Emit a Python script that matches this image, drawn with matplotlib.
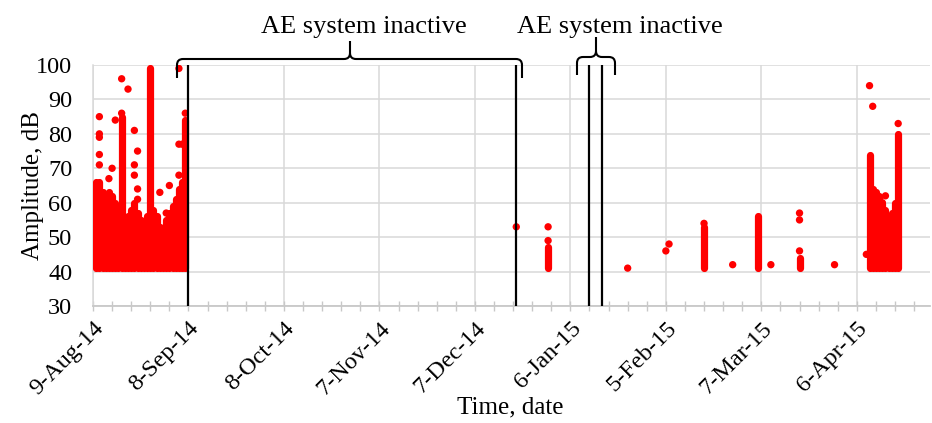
import matplotlib
matplotlib.use('Agg')
import matplotlib.pyplot as plt
import matplotlib.dates as mdates
import matplotlib.transforms as mtransforms
from matplotlib.path import Path
from matplotlib.patches import PathPatch
import numpy as np

plt.rcParams['font.family'] = ['Liberation Serif', 'DejaVu Serif']
plt.rcParams['font.size'] = 17.5

# ---------------- data ----------------
# dense event columns: every event between low and top amplitude (dB) on that date
col_dates = ['2014-08-10', '2014-08-11', '2014-08-12', '2014-08-13', '2014-08-14',
             '2014-08-15', '2014-08-16', '2014-08-17', '2014-08-18', '2014-08-19',
             '2014-08-20', '2014-08-21', '2014-08-22', '2014-08-23', '2014-08-24',
             '2014-08-25', '2014-08-26', '2014-08-27', '2014-08-28', '2014-08-29',
             '2014-08-30', '2014-08-31', '2014-09-01', '2014-09-02', '2014-09-03',
             '2014-09-04', '2014-09-05', '2014-09-06', '2014-09-07',
             '2014-12-30', '2015-02-17', '2015-03-06', '2015-03-19',
             '2015-04-10', '2015-04-11', '2015-04-12', '2015-04-13', '2015-04-14',
             '2015-04-15', '2015-04-16', '2015-04-17', '2015-04-18', '2015-04-19']
col_low = [41] * 43
col_top = [66, 66, 63, 60, 63, 62, 60, 58, 85, 52,
           56, 58, 60, 57, 55, 50, 56, 99, 58, 56,
           53, 52, 55, 57, 59, 61, 64, 66, 84,
           47, 53, 56, 44,
           74, 64, 63, 62, 60, 58, 56, 57, 60, 80]

# isolated events
pt_dates = ['2014-08-11', '2014-08-11', '2014-08-11', '2014-08-11', '2014-08-11',
            '2014-08-18', '2014-08-18', '2014-08-20', '2014-08-16', '2014-08-15',
            '2014-08-14', '2014-08-22', '2014-08-23', '2014-08-22', '2014-08-22',
            '2014-08-23', '2014-08-23', '2014-08-30', '2014-09-02', '2014-09-01',
            '2014-09-05', '2014-09-05', '2014-09-06', '2014-09-05', '2014-09-07',
            '2014-12-20', '2014-12-30', '2014-12-30', '2015-01-24', '2015-02-05',
            '2015-02-06', '2015-02-17', '2015-02-26', '2015-03-10', '2015-03-19',
            '2015-03-19', '2015-03-19', '2015-03-30', '2015-04-09', '2015-04-10',
            '2015-04-11', '2015-04-14', '2015-04-15', '2015-04-14', '2015-04-19']
pt_amp = [85, 80, 79, 74, 71,
          96, 86, 93, 84, 70,
          67, 81, 75, 71, 68,
          64, 61, 63, 65, 57,
          99, 77, 77, 68, 86,
          53, 53, 49, 41, 46,
          48, 54, 42, 42, 46,
          55, 57, 42, 45, 94,
          88, 60, 62, 58, 83]

inactive_lines = ['2014-09-08', '2014-12-20', '2015-01-12', '2015-01-16']
tick_start = '2014-08-09'
x_end = '2015-04-29'
y_min, y_max = 30, 100

# ---------------- figure ----------------
W, H = 932, 423
fig = plt.figure(figsize=(W / 100, H / 100), dpi=100)
ax = fig.add_axes([93 / W, 1 - 306 / H, (930 - 93) / W, (306 - 65) / H])

cd = np.array(col_dates, dtype='datetime64[D]')
pd_ = np.array(pt_dates, dtype='datetime64[D]')
red = '#ff0000'
ax.vlines(mdates.date2num(cd), col_low, col_top, colors=red, linewidth=5.2,
          capstyle='round', zorder=3)
ax.scatter(mdates.date2num(pd_), pt_amp, s=28, color=red, edgecolors='none', zorder=3)

for d in inactive_lines:
    ax.axvline(mdates.date2num(np.datetime64(d)), color='black', linewidth=1.6, zorder=4)

x0 = mdates.date2num(np.datetime64(tick_start))
x1 = mdates.date2num(np.datetime64(x_end))
ax.set_xlim(x0, x1)
ax.set_ylim(y_min, y_max)

major = np.arange(x0, x1, 30)
minor = np.arange(x0, x1, 6)
ax.set_xticks(major)
ax.set_xticks(minor, minor=True)
ax.set_xticklabels([mdates.num2date(m).strftime('%-d-%b-%y') for m in major],
                   rotation=45, ha='right', rotation_mode='anchor')
ax.set_yticks(np.arange(y_min, y_max + 1, 10))
shift = mtransforms.ScaledTranslation(-0.04, -0.03, fig.dpi_scale_trans)
for lab in ax.get_xticklabels():
    lab.set_transform(lab.get_transform() + shift)

grid_c = '#d9d9d9'
ax.grid(True, which='major', color=grid_c, linewidth=1.1, zorder=0)
ax.set_axisbelow(True)
for s in ['top', 'right']:
    ax.spines[s].set_visible(False)
ax.spines['left'].set_color(grid_c)
ax.spines['bottom'].set_color('#c8c8c8')
ax.spines['left'].set_linewidth(1.1)
ax.spines['bottom'].set_linewidth(1.3)
ax.tick_params(axis='x', which='both', direction='inout', length=7, width=1.0,
               color='#c8c8c8', pad=5)
ax.tick_params(axis='y', length=0, pad=15)

ax.set_xlabel('Time, date', fontsize=18)
ax.xaxis.set_label_coords((510 - 93) / 837, (306 - 396) / 241)
ax.set_ylabel('Amplitude, dB', fontsize=18)
ax.yaxis.set_label_coords((44 - 93) / 837, (306 - 185) / 241)


# ---------------- braces ----------------
def brace(xa, xb, xm, y_line, y_end, y_tip, r=6):
    def P(x, y):
        return (x / W, 1 - y / H)
    verts = [P(xa, y_end), P(xa, y_line + r), P(xa, y_line), P(xa + r, y_line),
             P(xm - r, y_line), P(xm, y_line), P(xm, y_line - r), P(xm, y_tip),
             P(xm, y_line - r), P(xm, y_line), P(xm + r, y_line),
             P(xb - r, y_line), P(xb, y_line), P(xb, y_line + r), P(xb, y_end)]
    codes = [Path.MOVETO, Path.LINETO, Path.CURVE3, Path.CURVE3,
             Path.LINETO, Path.CURVE3, Path.CURVE3, Path.LINETO,
             Path.MOVETO, Path.CURVE3, Path.CURVE3,
             Path.LINETO, Path.CURVE3, Path.CURVE3, Path.LINETO]
    fig.patches.append(PathPatch(Path(verts, codes), transform=fig.transFigure,
                                 fill=False, edgecolor='black', linewidth=1.5))

brace(177, 522, 350, 59, 78, 41)
brace(577, 615, 596, 57, 75, 37)
fig.text(364 / W, 1 - 33 / H, 'AE system inactive', ha='center', va='baseline', fontsize=19)
fig.text(620 / W, 1 - 33 / H, 'AE system inactive', ha='center', va='baseline', fontsize=19)

fig.savefig('out.png', dpi=100)
